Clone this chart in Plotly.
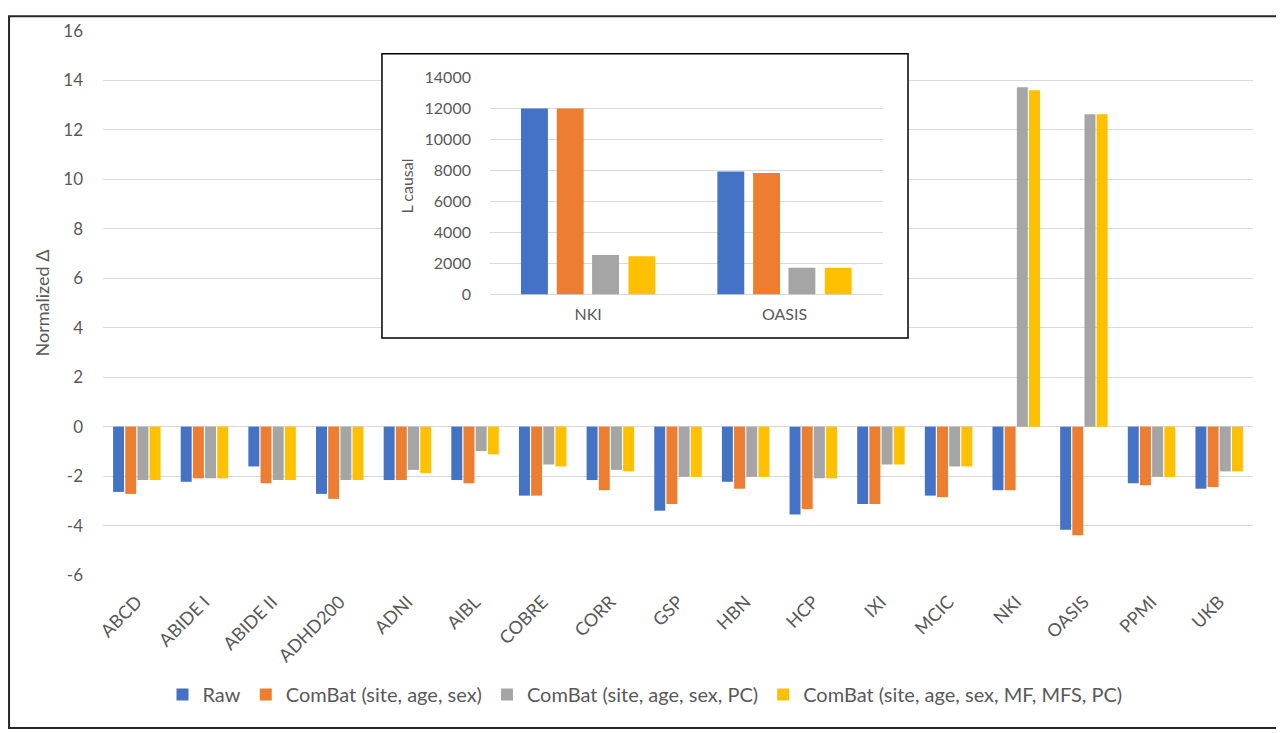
import plotly.graph_objects as go

categories = ["ABCD", "ABIDE I", "ABIDE II", "ADHD200", "ADNI", "AIBL", "COBRE", "CORR",
              "GSP", "HBN", "HCP", "IXI", "MCIC", "NKI", "OASIS", "PPMI", "UKB"]
series_names = ["Raw", "ComBat (site, age, sex)", "ComBat (site, age, sex, PC)",
                "ComBat (site, age, sex, MF, MFS, PC)"]
raw = [-2.64, -2.23, -1.61, -2.72, -2.16, -2.16, -2.79, -2.16, -3.40, -2.23, -3.55, -3.13,
       -2.79, -2.57, -4.17, -2.29, -2.51]
combat_sas = [-2.72, -2.09, -2.29, -2.92, -2.16, -2.29, -2.79, -2.57, -3.13, -2.51, -3.33,
              -3.13, -2.85, -2.57, -4.39, -2.37, -2.44]
combat_sas_pc = [-2.16, -2.09, -2.16, -2.16, -1.75, -0.99, -1.53, -1.75, -2.03, -2.03, -2.09,
                 -1.53, -1.61, 13.73, 12.63, -2.03, -1.81]
combat_full = [-2.16, -2.09, -2.16, -2.16, -1.88, -1.12, -1.61, -1.81, -2.03, -2.03, -2.09,
               -1.53, -1.61, 13.60, 12.63, -2.03, -1.81]
y_ticks = [-6, -4, -2, 0, 2, 4, 6, 8, 10, 12, 14, 16]
y_tick_labels = ["-6", "-4", "-2", "0", "2", "4", "6", "8", "10", "12", "14", "16"]

inset_categories = ["NKI", "OASIS"]
inset_raw = [11990, 7930]
inset_combat_sas = [11990, 7840]
inset_combat_sas_pc = [2560, 1730]
inset_combat_full = [2470, 1730]
inset_ticks = [0, 2000, 4000, 6000, 8000, 10000, 12000, 14000]

colors = ["#4472C4", "#ED7D31", "#A5A5A5", "#FFC000"]
text_color = "#595959"
grid_color = "#D9D9D9"
FONT = "Lato"

fig = go.Figure()
main_series = [raw, combat_sas, combat_sas_pc, combat_full]
for name, vals, col in zip(series_names, main_series, colors):
    fig.add_trace(go.Bar(x=categories, y=vals, name=name, marker=dict(color=col, line=dict(width=0)),
                         xaxis="x", yaxis="y"))

inset_series = [inset_raw, inset_combat_sas, inset_combat_sas_pc, inset_combat_full]
inset_offsets = [-0.342, -0.16, 0.02, 0.205]
for name, vals, col, off in zip(series_names, inset_series, colors, inset_offsets):
    fig.add_trace(go.Bar(x=inset_categories, y=vals, name=name, showlegend=False,
                         marker=dict(color=col, line=dict(width=0)),
                         width=0.137, offset=off, xaxis="x2", yaxis="y2"))

fig.update_layout(
    width=1276, height=725,
    margin=dict(l=95, r=31, t=16, b=158),
    paper_bgcolor="white", plot_bgcolor="white",
    barmode="group", bargap=0.28, bargroupgap=0.1,
    font=dict(family=FONT, color=text_color),
    xaxis=dict(range=[-0.5, 16.5], tickangle=-45, showgrid=False, showline=False, zeroline=False,
               ticks="", tickfont=dict(size=18, color=text_color), ticklabelstandoff=12),
    yaxis=dict(range=[-6, 16], tickvals=y_ticks, ticktext=y_tick_labels, showgrid=True,
               gridcolor=grid_color, gridwidth=1,
               zeroline=True, zerolinecolor=grid_color, zerolinewidth=1, showline=False, ticks="",
               tickfont=dict(size=17, color=text_color), ticklabelstandoff=19,
               title=dict(text="Normalized Δ", font=dict(size=18, color=text_color), standoff=8)),
    xaxis2=dict(domain=[0.3365, 0.678], anchor="y2", range=[-0.5, 1.5], showgrid=False,
                showline=False, zeroline=False, ticks="",
                tickfont=dict(size=16, color=text_color), ticklabelstandoff=8),
    yaxis2=dict(domain=[0.5154, 0.9147], anchor="x2", range=[0, 14000], tickvals=inset_ticks,
                tickformat="d",
                showgrid=True, gridcolor=grid_color, gridwidth=1, zeroline=True,
                zerolinecolor=grid_color, zerolinewidth=1, showline=False, ticks="",
                tickfont=dict(size=16, color=text_color), ticklabelstandoff=18,
                title=dict(text="L causal", font=dict(size=16, color=text_color), standoff=6)),
    legend=dict(orientation="h", x=0.4713, xanchor="center", y=-0.2196, yanchor="middle",
                font=dict(size=20, color=text_color), bgcolor="rgba(0,0,0,0)",
                traceorder="normal"),
    shapes=[
        dict(type="rect", xref="x", yref="y", x0=3.624, x1=11.40, y0=3.582, y1=15.08,
             fillcolor="white", line=dict(color="black", width=1.5), layer="between"),
        dict(type="rect", xref="paper", yref="paper", x0=-0.0817, x1=1.0226, y0=-0.2813, y1=1.0272,
             fillcolor="rgba(0,0,0,0)", line=dict(color="#262626", width=2), layer="above"),
    ],
)

fig.write_html("out.html")
